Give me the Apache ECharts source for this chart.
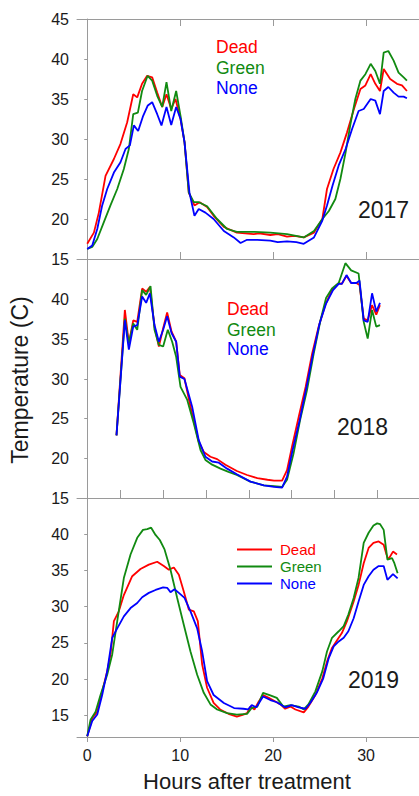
<!DOCTYPE html>
<html><head><meta charset="utf-8">
<script src="https://cdn.jsdelivr.net/npm/echarts@6/dist/echarts.min.js"></script>
<style>html,body{margin:0;padding:0;background:#fff}#c{width:419px;height:796px}</style>
</head><body><div id="c"></div>
<script>
const seriesNames = ['Dead', 'Green', 'None'];
const yearLabels = ['2017', '2018', '2019'];
const xTickLabels = [0, 10, 20, 30];
const panel2Ticks = [3.6, 8.2, 12.8, 17.4, 22.0, 26.6, 31.2];
const yTicksTop = [15, 20, 25, 30, 35, 40, 45];
const yTicksLower = [15, 20, 25, 30, 35, 40];

const dead2017 = [[0,16.9],[0.72,18.3],[1.25,20.8],[1.97,25.4],[2.87,27.5],[3.58,29.4],[4.3,32.1],[4.95,35.6],[5.38,35.2],[5.9,36.9],[6.45,37.9],[6.99,37.7],[7.53,35.8],[8.07,34.0],[8.53,35.6],[9.04,33.75],[9.5,35.0],[10.04,32.5],[10.47,29.6],[10.93,23.3],[11.54,21.7],[12.1,22.1],[12.9,21.5],[13.6,20.4],[14.7,19.0],[16.1,18.3],[17.9,18.1],[18.5,18.2],[19.7,18.0],[20.5,18.1],[21.5,17.8],[22.3,17.9],[23.3,17.7],[24.4,18.3],[25.3,20.0],[25.8,23.75],[26.5,26.25],[27.24,28.3],[27.95,30.8],[28.7,33.75],[29.4,36.25],[29.93,36.7],[30.5,38.1],[31.0,36.9],[31.5,36.0],[31.9,38.75],[32.6,37.5],[33.33,36.9],[33.87,36.7],[34.4,36.0]];
const green2017 = [[0,16.25],[0.54,16.5],[1.08,17.5],[1.79,19.6],[2.5,21.7],[3.23,23.75],[3.94,26.25],[4.48,28.75],[4.95,33.1],[5.45,33.3],[5.9,36.0],[6.5,37.9],[6.99,37.3],[7.53,35.4],[8.07,34.0],[8.53,37.1],[9.04,33.5],[9.57,36.0],[10.04,32.9],[10.47,29.6],[10.93,23.3],[11.47,22.1],[12.0,22.1],[12.9,21.6],[13.97,20.0],[15.05,18.75],[16.1,18.4],[18.0,18.4],[19.7,18.3],[21.5,18.1],[23.3,17.7],[24.4,18.5],[25.3,20.0],[26.0,21.0],[26.7,22.5],[27.24,25.0],[27.8,28.3],[28.3,31.7],[28.85,35.0],[29.4,37.3],[29.93,38.1],[30.5,39.4],[31.0,38.5],[31.5,36.9],[31.9,40.8],[32.4,41.0],[32.97,39.8],[33.5,38.3],[34.05,37.7],[34.4,37.3]];
const none2017 = [[0,16.25],[0.54,16.7],[1.08,18.75],[1.61,21.7],[2.15,23.75],[2.87,25.8],[3.58,27.1],[4.12,28.75],[4.59,29.2],[5.02,31.7],[5.48,31.0],[6.02,32.9],[6.52,34.2],[6.99,34.6],[7.53,33.1],[7.99,31.7],[8.53,34.0],[9.04,31.75],[9.57,34.0],[10.04,32.5],[10.47,29.6],[11.0,23.3],[11.54,20.4],[12.0,21.25],[12.72,20.8],[13.6,20.0],[14.7,18.5],[15.77,17.7],[16.5,17.0],[17.2,17.4],[18.3,17.4],[19.7,17.3],[20.5,17.1],[21.5,17.2],[22.5,17.1],[23.3,16.9],[24.4,17.7],[25.3,19.8],[25.8,21.7],[26.4,24.2],[27.06,26.7],[27.8,28.75],[28.5,31.25],[29.2,33.5],[29.75,33.75],[30.5,35.0],[31.0,34.8],[31.5,33.1],[31.9,36.0],[32.4,36.5],[32.97,35.8],[33.5,35.3],[34.05,35.3],[34.4,35.1]];

const dead2018 = [[3.15,22.9],[4.05,38.7],[4.48,34.5],[4.95,37.4],[5.38,37.2],[5.91,41.4],[6.34,41.0],[6.74,41.6],[7.24,36.6],[7.71,34.1],[8.17,36.4],[8.6,38.4],[9.07,36.0],[9.57,34.7],[9.96,30.5],[10.46,30.1],[11.11,26.5],[12.0,22.1],[12.54,20.8],[13.26,20.2],[13.98,19.9],[14.87,19.2],[16.1,18.4],[17.2,17.9],[18.3,17.5],[19.4,17.3],[20.1,17.2],[20.97,17.2],[21.5,18.5],[22.04,21.5],[22.76,25.25],[23.5,29.0],[24.2,33.2],[24.9,36.6],[25.6,39.3],[26.34,41.2],[27.06,42.1],[27.4,42.0],[27.9,43.0],[28.4,42.1],[28.96,42.1],[29.3,41.85],[29.75,37.6],[30.18,37.4],[30.65,39.3],[31.1,38.1],[31.5,39.3]];
const green2018 = [[3.15,22.9],[4.05,37.6],[4.48,34.5],[4.95,37.0],[5.38,36.2],[5.91,41.2],[6.34,40.6],[6.81,41.7],[7.24,36.2],[7.71,34.3],[8.17,34.1],[8.67,36.2],[9.14,34.7],[9.57,32.8],[10.04,29.0],[10.75,27.4],[11.47,24.4],[12.19,21.05],[12.72,19.8],[13.44,19.2],[14.34,18.7],[15.2,18.3],[16.1,17.9],[17.56,17.06],[19.0,16.6],[20.1,16.5],[20.97,16.4],[21.5,17.3],[22.2,20.6],[22.9,24.8],[23.65,28.6],[24.37,33.2],[25.1,37.4],[25.7,40.2],[26.34,41.4],[27.06,42.1],[27.78,44.6],[28.4,43.7],[29.2,43.3],[29.75,37.2],[30.18,35.1],[30.65,38.7],[31.1,36.6],[31.5,36.8]];
const none2018 = [[3.15,22.9],[4.05,37.4],[4.48,33.7],[4.95,36.6],[5.38,36.8],[5.91,40.4],[6.34,39.6],[6.74,40.8],[7.24,36.8],[7.71,34.7],[8.17,36.2],[8.6,37.9],[9.07,35.8],[9.57,34.7],[9.96,30.3],[10.46,30.0],[11.29,26.5],[12.0,22.3],[12.72,20.2],[13.44,19.6],[14.16,19.45],[15.05,18.7],[16.1,18.0],[17.56,17.06],[19.0,16.6],[20.1,16.4],[20.97,16.3],[21.5,17.7],[22.1,21.05],[22.86,24.8],[23.6,29.0],[24.3,33.2],[25.0,37.0],[25.7,39.5],[26.45,41.2],[27.06,42.0],[27.4,42.0],[27.9,43.1],[28.4,42.1],[28.96,42.1],[29.3,42.4],[29.75,37.4],[30.18,37.2],[30.65,40.8],[31.1,38.5],[31.5,39.6]];

const dead2019 = [[0,12.1],[0.54,14.6],[1.08,15.5],[1.61,18.3],[2.15,21.1],[2.51,23.4],[2.87,28.0],[3.4,29.35],[3.94,31.6],[4.84,34.2],[5.73,35.2],[6.63,35.8],[7.53,36.2],[8.24,35.6],[8.78,35.1],[9.32,35.4],[9.86,34.4],[10.39,32.1],[10.93,29.6],[11.47,29.35],[11.9,28.0],[12.37,22.0],[12.9,18.8],[13.6,16.7],[14.3,15.8],[15.2,15.2],[16.1,14.8],[16.8,15.1],[17.2,15.3],[17.56,16.2],[17.99,15.8],[18.46,16.9],[18.92,17.8],[19.53,17.4],[20.25,16.9],[20.79,16.5],[21.3,15.9],[21.86,16.2],[22.4,15.8],[23.3,15.4],[23.8,16.2],[24.55,17.8],[25.3,20.1],[25.8,22.4],[26.34,24.3],[26.9,25.4],[27.4,26.35],[27.95,28.0],[28.67,30.7],[29.2,33.0],[29.75,36.0],[30.28,38.1],[30.8,38.8],[31.36,39.0],[31.9,38.55],[32.2,37.2],[32.4,36.5],[32.9,37.6],[33.33,37.2]];
const green2019 = [[0,12.1],[0.36,14.4],[0.9,15.5],[1.43,17.8],[2.15,20.6],[2.69,23.4],[3.23,28.0],[3.94,33.95],[4.66,37.2],[5.38,39.5],[6.0,40.6],[6.45,40.7],[6.88,40.9],[7.35,39.9],[7.81,39.2],[8.32,37.9],[8.96,35.1],[9.68,31.2],[10.39,27.5],[11.11,23.8],[11.83,20.6],[12.54,18.1],[13.26,16.5],[13.98,15.8],[15.05,15.3],[16.1,15.1],[17.2,15.2],[17.7,16.0],[18.3,16.2],[18.92,18.1],[19.7,17.75],[20.4,17.4],[21.1,16.2],[21.86,16.4],[22.76,16.2],[23.3,15.8],[23.8,16.5],[24.55,18.3],[25.3,21.1],[25.8,23.8],[26.34,25.7],[27.06,26.6],[27.6,27.3],[28.1,28.9],[28.67,31.2],[29.2,34.0],[29.75,38.8],[30.28,40.2],[30.8,41.2],[31.2,41.5],[31.5,41.4],[31.9,40.6],[32.3,36.5],[32.8,36.7],[33.05,36.0],[33.4,34.6]];
const none2019 = [[0,12.1],[0.54,14.2],[1.08,15.1],[1.61,17.8],[2.15,21.1],[2.69,25.7],[3.23,27.0],[3.94,28.65],[4.66,29.8],[5.38,30.5],[5.91,31.3],[6.63,31.9],[7.35,32.3],[8.17,32.65],[8.6,32.6],[8.96,32.0],[9.39,32.4],[9.86,31.9],[10.47,31.2],[11.11,29.35],[11.83,27.0],[12.37,23.8],[12.9,19.7],[13.6,17.8],[14.7,16.7],[15.8,16.0],[16.8,15.9],[17.3,15.8],[17.7,16.4],[18.2,16.1],[18.92,17.6],[19.7,17.1],[20.4,16.8],[21.3,16.1],[22.0,16.4],[22.76,16.1],[23.5,15.9],[24.0,16.7],[24.7,18.1],[25.4,20.1],[25.99,22.9],[26.52,24.5],[27.06,25.2],[27.6,25.7],[28.1,26.6],[28.67,28.4],[29.2,30.7],[29.75,33.0],[30.28,34.2],[30.8,35.1],[31.36,35.6],[31.9,35.6],[32.3,33.7],[32.9,34.5],[33.4,33.9]];

const FONT = '"Liberation Sans", Arial, sans-serif';
const COLORS = ['#ff0000', '#118a11', '#0000ff'];
const AXIS_COLOR = '#9a9a9a';
const TEXT_COLOR = '#1a1a1a';
const XMIN = -1.1, XMAX = 35.7;

const chart = echarts.init(document.getElementById('c'), null, {renderer: 'svg'});

const grids = [
  {left: 77, right: 0, top: 19, height: 240},
  {left: 77, right: 0, top: 260, height: 238},
  {left: 77, right: 0, top: 498, height: 239}
];

function xAx(gridIndex, position, tickVals, inside, tickLen, showLabels) {
  return {
    type: 'value', gridIndex, position, min: XMIN, max: XMAX,
    axisLine: {show: true, onZero: false, lineStyle: {color: AXIS_COLOR, width: 1}},
    axisTick: {show: tickVals.length > 0, inside, length: tickLen, customValues: tickVals, lineStyle: {color: AXIS_COLOR}},
    axisLabel: {show: showLabels, customValues: tickVals, fontFamily: FONT, fontSize: 16, color: TEXT_COLOR, margin: 10},
    splitLine: {show: false}
  };
}
function yAx(gridIndex, min, labels) {
  return {
    type: 'value', gridIndex, min, max: 45,
    axisLine: {show: true, lineStyle: {color: AXIS_COLOR, width: 1}},
    axisTick: {show: true, inside: false, length: 3, customValues: labels, lineStyle: {color: AXIS_COLOR}},
    axisLabel: {customValues: labels, fontFamily: FONT, fontSize: 16, color: TEXT_COLOR, margin: 8},
    splitLine: {show: false}
  };
}

const xAxis = [
  xAx(0, 'bottom', xTickLabels, true, 7, false),
  xAx(1, 'bottom', panel2Ticks, true, 8, false),
  xAx(2, 'bottom', xTickLabels, false, 5, true),
  xAx(0, 'top', xTickLabels, true, 7, false)
];
const yAxis = [yAx(0, 15, yTicksTop), yAx(1, 15, yTicksLower), yAx(2, 12, yTicksLower)];

const panels = [[dead2017, green2017, none2017], [dead2018, green2018, none2018], [dead2019, green2019, none2019]];
const series = [];
panels.forEach((arrs, p) => {
  arrs.forEach((d, k) => {
    series.push({
      type: 'line', name: seriesNames[k], xAxisIndex: p, yAxisIndex: p, data: d,
      showSymbol: false, symbol: 'none', smooth: false, animation: false,
      lineStyle: {color: COLORS[k], width: 1.8}, itemStyle: {color: COLORS[k]}
    });
  });
});

function txt(text, x, y, size, color, align, extra) {
  return Object.assign({type: 'text', x, y, silent: true,
    style: {text, fill: color, font: size + 'px ' + FONT, textAlign: align || 'left', textVerticalAlign: 'middle'}}, extra || {});
}
const graphic = [
  txt('Temperature (C)', 20, 380, 23, TEXT_COLOR, 'center', {rotation: Math.PI / 2}),
  txt('Hours after treatment', 247, 781, 22, TEXT_COLOR, 'center'),
  txt(yearLabels[0], 358, 210, 23, TEXT_COLOR),
  txt(yearLabels[1], 337, 427, 23, TEXT_COLOR),
  txt(yearLabels[2], 348, 680, 23, TEXT_COLOR),
  txt(seriesNames[0], 216, 47, 17.5, COLORS[0]),
  txt(seriesNames[1], 216, 68, 17.5, COLORS[1]),
  txt(seriesNames[2], 216, 88, 17.5, COLORS[2]),
  txt(seriesNames[0], 227, 309, 17.5, COLORS[0]),
  txt(seriesNames[1], 227, 330, 17.5, COLORS[1]),
  txt(seriesNames[2], 227, 349, 17.5, COLORS[2])
];

chart.setOption({
  animation: false,
  backgroundColor: '#fff',
  grid: grids,
  xAxis, yAxis, series, graphic,
  legend: {
    data: seriesNames.map((n, k) => ({name: n, textStyle: {color: COLORS[k]}})),
    orient: 'vertical', left: 232, top: 536, icon: 'rect', itemWidth: 35, itemHeight: 2,
    itemGap: 0, selectedMode: false,
    textStyle: {fontFamily: FONT, fontSize: 15, lineHeight: 17, padding: [0, 0, 0, 3]}
  }
});
</script></body></html>
